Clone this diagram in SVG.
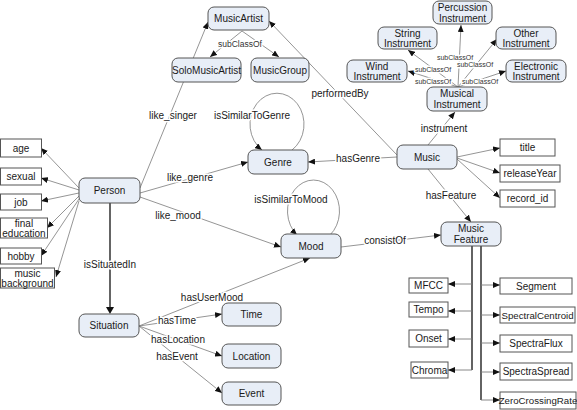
<svg xmlns="http://www.w3.org/2000/svg" width="577" height="410" viewBox="0 0 577 410">
<style>
.n rect{fill:#e8eef7;stroke:#555;stroke-width:1}
.a rect{fill:#fff;stroke:#555;stroke-width:1}
text{font-family:"Liberation Sans",Arial,sans-serif;font-size:10px;fill:#1a1a1a;text-anchor:middle}
.l{stroke:#fff;stroke-width:3;paint-order:stroke;stroke-linejoin:round}
.s{font-size:7px;fill:#333}
.s8{font-size:8.5px;fill:#333}
.sm{font-size:9.7px}
.e{fill:none;stroke:#7a7a7a;stroke-width:0.8;marker-end:url(#ah)}
.k{fill:none;stroke:#111;stroke-width:1.3}
.kb{fill:none;stroke:#7a7a7a;stroke-width:0.9;marker-end:url(#ah)}
</style>
<defs>
<marker id="ah" markerUnits="userSpaceOnUse" markerWidth="7" markerHeight="6" refX="7" refY="3" orient="auto">
<path d="M0,0 L7,3 L0,6 z" fill="#111"/>
</marker>
</defs>
<rect width="577" height="410" fill="#fff"/>
<g id="connectors">
<path class="e" d="M140,188 L208,22"/>
<path class="e" d="M140,193 L248,162"/>
<path class="e" d="M140,197 L281,247"/>
<path class="k" d="M110,203 L110,308"/>
<path d="M106,307 L110,314 L114,307 z" fill="#111"/>
<path class="e" d="M79,188 L41,148"/>
<path class="e" d="M79,190 L41,178"/>
<path class="e" d="M79,193 L41,201"/>
<path class="e" d="M79,196 L47,228"/>
<path class="e" d="M79,199 L41,256"/>
<path class="e" d="M79,201 L56,277"/>
<path class="e" d="M139,326 L310,258"/>
<path class="e" d="M139,326 L222,314"/>
<path class="e" d="M139,326 L222,356"/>
<path class="e" d="M139,326 L222,393"/>
<path class="e" d="M292,150 A27,31 0 1 0 262,150"/>
<path class="e" d="M330,235 A26,31 0 1 0 297,235"/>
<path class="e" d="M242,31 L210,57"/>
<path class="e" d="M242,31 L279,57"/>
<path class="e" d="M458,87 L461,25"/>
<path class="e" d="M458,87 L408,50"/>
<path class="e" d="M458,87 L497,39"/>
<path class="e" d="M458,87 L408,71"/>
<path class="e" d="M458,87 L506,71"/>
<path class="e" d="M397,157 L308,162"/>
<path class="e" d="M397,155 L269,21"/>
<path class="e" d="M428,145 L455,112"/>
<path class="e" d="M428,169 L471,222"/>
<path class="e" d="M341,247 L441,235"/>
<path class="e" d="M457,157 L500,148"/>
<path class="e" d="M457,158 L500,173"/>
<path class="e" d="M457,159 L500,198"/>
<path class="k" d="M472,246 L472,370 M481,246 L481,400"/>
<path class="kb" d="M472,284 L448,284"/>
<path class="kb" d="M472,311 L448,311"/>
<path class="kb" d="M472,339 L448,339"/>
<path class="kb" d="M472,370 L448,370"/>
<path class="kb" d="M481,285 L500,285"/>
<path class="kb" d="M481,315 L500,315"/>
<path class="kb" d="M481,343 L500,343"/>
<path class="kb" d="M481,372 L500,372"/>
<path class="kb" d="M481,400 L500,400"/>
<text class="l s8" x="240" y="46.5">subClassOf</text>
<text class="l s" x="455" y="59.5">subClassOf</text>
<text class="l s" x="475" y="66.5">subClassOf</text>
<text class="l s" x="433" y="71.5">subClassOf</text>
<text class="l s" x="433" y="83.5">subClassOf</text>
<text class="l s" x="480" y="83.5">subClassOf</text>
<text class="l" x="173" y="118.5">like_singer</text>
<text class="l" x="190" y="180.5">like_genre</text>
<text class="l" x="178" y="218.5">like_mood</text>
<text class="l" x="110" y="267.5">isSituatedIn</text>
<text class="l" x="212" y="300.5">hasUserMood</text>
<text class="l" x="177" y="323.5">hasTime</text>
<text class="l" x="178" y="342.5">hasLocation</text>
<text class="l" x="177" y="359.5">hasEvent</text>
<text class="l" x="252" y="118.5">isSimilarToGenre</text>
<text class="l" x="291" y="202.5">isSimilarToMood</text>
<text class="l" x="358" y="161.5">hasGenre</text>
<text class="l" x="340" y="96.5">performedBy</text>
<text class="l" x="444" y="131.5">instrument</text>
<text class="l" x="451" y="198.5">hasFeature</text>
<text class="l" x="385" y="243.5">consistOf</text>
</g>
<g id="MusicArtist" class="n"><rect x="208" y="7" width="61" height="23" rx="6"/><text x="238.5" y="22">MusicArtist</text></g>
<g id="SoloMusicArtist" class="n"><rect x="172" y="58" width="69" height="24" rx="6"/><text x="206.5" y="73.5">SoloMusicArtist</text></g>
<g id="MusicGroup" class="n"><rect x="251" y="58" width="58" height="24" rx="6"/><text x="280" y="73.5">MusicGroup</text></g>
<g id="PercussionInstrument" class="n"><rect x="433" y="1" width="59" height="23" rx="6"/><text x="462.5" y="11">Percussion</text><text x="462.5" y="21.5">Instrument</text></g>
<g id="StringInstrument" class="n"><rect x="378" y="27" width="59" height="22" rx="6"/><text x="407.5" y="36.5">String</text><text x="407.5" y="46.5">Instrument</text></g>
<g id="OtherInstrument" class="n"><rect x="496" y="27" width="60" height="22" rx="6"/><text x="526" y="36.5">Other</text><text x="526" y="46.5">Instrument</text></g>
<g id="WindInstrument" class="n"><rect x="347" y="60" width="60" height="22" rx="6"/><text x="377" y="69.5">Wind</text><text x="377" y="79.5">Instrument</text></g>
<g id="ElectronicInstrument" class="n"><rect x="506" y="60" width="60" height="22" rx="6"/><text x="536" y="69.5">Electronic</text><text x="536" y="79.5">Instrument</text></g>
<g id="MusicalInstrument" class="n"><rect x="427" y="87" width="60" height="24" rx="6"/><text x="457" y="97">Musical</text><text x="457" y="108">Instrument</text></g>
<g id="Music" class="n"><rect x="397" y="145" width="60" height="24" rx="6"/><text x="427" y="160.5">Music</text></g>
<g id="title" class="a"><rect x="500" y="139" width="55" height="17"/><text x="527.5" y="151">title</text></g>
<g id="releaseYear" class="a"><rect x="500" y="165" width="60" height="17"/><text x="530" y="177">releaseYear</text></g>
<g id="record_id" class="a"><rect x="500" y="190" width="55" height="17"/><text x="527.5" y="202">record_id</text></g>
<g id="MusicFeature" class="n"><rect x="441" y="222" width="60" height="24" rx="6"/><text x="471" y="232">Music</text><text x="471" y="243">Feature</text></g>
<g id="Genre" class="n"><rect x="248" y="150" width="60" height="24" rx="6"/><text x="278" y="165.5">Genre</text></g>
<g id="Mood" class="n"><rect x="281" y="234" width="60" height="24" rx="6"/><text x="311" y="249.5">Mood</text></g>
<g id="Person" class="n"><rect x="79" y="178" width="61" height="25" rx="6"/><text x="109.5" y="194">Person</text></g>
<g id="age" class="a"><rect x="0.5" y="139" width="41" height="18"/><text x="21" y="151.5">age</text></g>
<g id="sexual" class="a"><rect x="0.5" y="168" width="41" height="17"/><text x="21" y="180">sexual</text></g>
<g id="job" class="a"><rect x="0.5" y="194" width="41" height="16"/><text x="21" y="205.5">job</text></g>
<g id="finaleducation" class="a"><rect x="0.5" y="218" width="47" height="20"/><text x="24" y="226.5">final</text><text x="24" y="236.5">education</text></g>
<g id="hobby" class="a"><rect x="0.5" y="248" width="41" height="16"/><text x="21" y="259.5">hobby</text></g>
<g id="musicbackground" class="a"><rect x="0.5" y="268" width="54" height="20"/><text x="27.5" y="276.5">music</text><text x="27.5" y="286.5">background</text></g>
<g id="Situation" class="n"><rect x="79" y="314" width="60" height="23" rx="6"/><text x="109" y="329">Situation</text></g>
<g id="Time" class="n"><rect x="222" y="303" width="59" height="23" rx="6"/><text x="251.5" y="318">Time</text></g>
<g id="Location" class="n"><rect x="222" y="344" width="59" height="24" rx="6"/><text x="251.5" y="359.5">Location</text></g>
<g id="Event" class="n"><rect x="222" y="382" width="59" height="23" rx="6"/><text x="251.5" y="397">Event</text></g>
<g id="MFCC" class="a"><rect x="409" y="278" width="39" height="15"/><text x="428.5" y="289">MFCC</text></g>
<g id="Tempo" class="a"><rect x="409" y="302" width="39" height="15"/><text x="428.5" y="313">Tempo</text></g>
<g id="Onset" class="a"><rect x="409" y="330" width="39" height="17"/><text x="428.5" y="342">Onset</text></g>
<g id="Chroma" class="a"><rect x="411" y="362" width="37" height="16"/><text x="429.5" y="373.5">Chroma</text></g>
<g id="Segment" class="a"><rect x="500" y="278" width="72" height="16"/><text x="536" y="289.5">Segment</text></g>
<g id="SpectralCentroid" class="a"><rect x="500" y="307" width="75" height="16"/><text class="sm" x="537.5" y="318.5">SpectralCentroid</text></g>
<g id="SpectraFlux" class="a"><rect x="500" y="335" width="72" height="17"/><text x="536" y="347">SpectraFlux</text></g>
<g id="SpectraSpread" class="a"><rect x="500" y="363" width="72" height="17"/><text x="536" y="375">SpectraSpread</text></g>
<g id="ZeroCrossingRate" class="a"><rect x="500" y="392" width="76" height="17"/><text class="sm" x="538" y="404">ZeroCrossingRate</text></g>
</svg>
